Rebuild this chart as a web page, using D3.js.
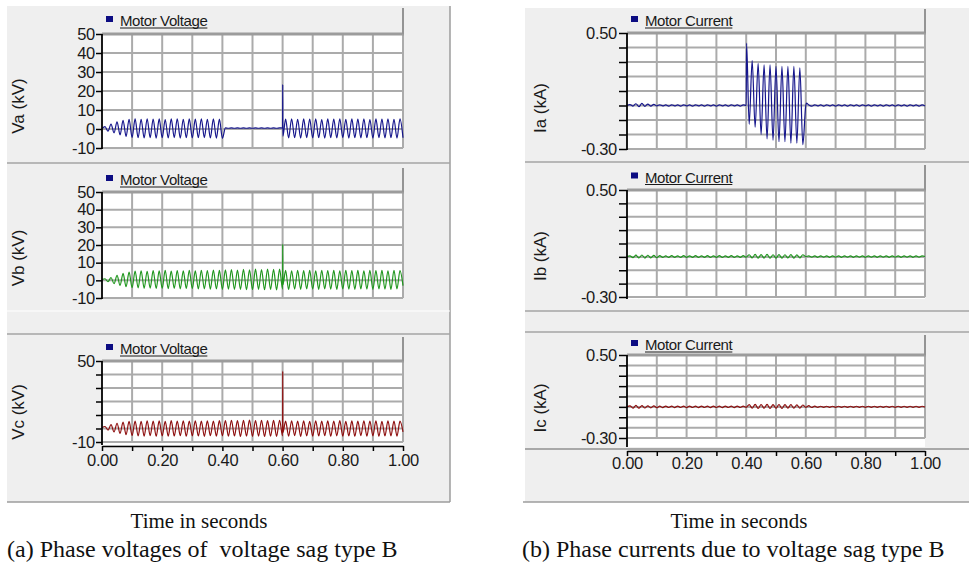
<!DOCTYPE html>
<html>
<head>
<meta charset="utf-8">
<script src="https://cdn.jsdelivr.net/npm/d3@7"></script>
<style>
	body { margin: 0; background: #fff; }
	svg { display: block; font-family: "Liberation Sans", Arial, sans-serif; }
</style>
</head>
<body>
<svg id="chart" width="969" height="574"></svg>
<script>
/*global d3 */
'use strict';

// Time axis (seconds)
var timeTicks = [0, 0.1, 0.2, 0.3, 0.4, 0.5, 0.6, 0.7, 0.8, 0.9, 1.0];
var timeLabels = [0, 0.2, 0.4, 0.6, 0.8, 1.0];
var halfCycle = 0.01; // one reading per half cycle of 50 Hz (peak / trough)

// Voltage axis (kV)
var voltTicks = [-10, 0, 10, 20, 30, 40, 50];
var voltLabelsAll = [-10, 0, 10, 20, 30, 40, 50];
var voltLabelsEnds = [-10, 50];

// Current axis (kA)
var currTicks = [-0.3, -0.2, -0.1, 0, 0.1, 0.2, 0.3, 0.4, 0.5];
var currLabels = [-0.3, 0.5];

// Peak / trough readings, one per half cycle from t = 0 to t = 1.00 s
var vaValues = [
	0.2,
	1.2, -1.1, 2.6, -2.0, 3.7, -3.1, 4.6, -3.9, 5.1, -4.4,
	5.3, -4.6, 5.1, -4.7, 5.4, -4.5, 5.2, -4.8, 5.3, -4.6,
	5.0, -4.7, 5.3, -4.5, 5.4, -4.8, 5.1, -4.6, 5.3, -4.7,
	5.2, -4.6, 5.4, -4.5, 5.1, -4.7, 5.3, -4.8, 5.2, -4.9,
	0.6, 0.4, 0.6, 0.4, 0.6, 0.4, 0.6, 0.4, 0.6, 0.4,
	0.6, 0.4, 0.6, 0.4, 0.6, 0.4, 0.6, 0.4, 0.6, 0.5,
	5.2, -4.7, 5.4, -4.6, 5.1, -4.8, 5.3, -4.5, 5.2, -4.7,
	5.4, -4.6, 5.0, -4.8, 5.3, -4.6, 5.2, -4.7, 5.4, -4.5,
	5.1, -4.8, 5.3, -4.6, 5.2, -4.7, 5.4, -4.6, 5.0, -4.8,
	5.3, -4.5, 5.2, -4.7, 5.4, -4.6, 5.1, -4.8, 5.3, -4.6
];
var vbValues = [
	0.5,
	0.9, -0.8, 1.6, -1.9, 2.8, -2.9, 3.9, -3.6, 4.7, -4.2,
	5.2, -4.3, 5.4, -4.5, 5.1, -4.4, 5.5, -4.6, 5.3, -4.5,
	5.6, -4.7, 5.2, -4.5, 5.5, -4.8, 5.4, -4.6, 5.6, -4.7,
	5.3, -4.9, 5.7, -4.8, 5.5, -5.0, 5.8, -4.9, 5.6, -5.1,
	5.9, -5.0, 6.1, -5.2, 5.8, -5.1, 6.2, -5.3, 6.0, -5.2,
	6.3, -5.1, 6.1, -5.3, 6.4, -5.2, 6.2, -5.4, 6.3, -5.0,
	5.6, -5.2, 5.4, -5.0, 5.7, -5.1, 5.5, -4.9, 5.6, -5.0,
	5.4, -5.1, 5.7, -4.9, 5.5, -5.0, 5.6, -5.1, 5.4, -4.9,
	5.7, -5.0, 5.5, -5.1, 5.6, -4.9, 5.4, -5.0, 5.7, -5.1,
	5.5, -4.9, 5.6, -5.0, 5.4, -5.1, 5.7, -4.9, 5.5, -3.0
];
var vcValues = [
	0.5,
	1.5, -1.2, 2.8, -2.5, 3.9, -3.7, 4.8, -4.6, 5.3, -5.2,
	5.5, -5.4, 5.3, -5.6, 5.7, -5.3, 5.4, -5.7, 5.6, -5.4,
	5.3, -5.6, 5.8, -5.5, 5.4, -5.3, 5.6, -5.7, 5.5, -5.4,
	5.7, -5.5, 5.4, -5.8, 5.6, -5.3, 5.5, -5.6, 5.8, -5.4,
	5.9, -5.7, 6.1, -5.5, 5.8, -5.9, 6.0, -5.6, 6.2, -5.8,
	5.9, -5.6, 6.1, -5.9, 5.8, -5.7, 6.0, -5.8, 6.1, -5.5,
	5.4, -5.6, 5.7, -5.3, 5.5, -5.8, 5.6, -5.4, 5.3, -5.6,
	5.7, -5.5, 5.4, -5.3, 5.6, -5.7, 5.5, -5.4, 5.8, -5.6,
	5.3, -5.5, 5.6, -5.7, 5.4, -5.3, 5.7, -5.6, 5.5, -5.4,
	5.6, -5.7, 5.3, -5.5, 5.7, -5.4, 5.5, -5.6, 5.4, -2.5
];
var iaValues = [
	0,
	0.006, -0.004, 0.012, -0.008, 0.014, -0.006, 0.010, -0.004, 0.008, -0.003,
	0.005, -0.003, 0.004, -0.004, 0.005, -0.003, 0.004, -0.004, 0.005, -0.003,
	0.004, -0.004, 0.005, -0.003, 0.004, -0.004, 0.005, -0.003, 0.004, -0.004,
	0.005, -0.003, 0.004, -0.004, 0.005, -0.003, 0.004, -0.004, 0.005, 0.000,
	-0.13, 0.31, -0.15, 0.29, -0.20, 0.28, -0.23, 0.28, -0.24, 0.27,
	-0.25, 0.27, -0.25, 0.27, -0.26, 0.27, -0.26, 0.26, -0.27, 0.000,
	0.004, -0.004, 0.005, -0.003, 0.004, -0.004, 0.005, -0.003, 0.004, -0.004,
	0.005, -0.003, 0.004, -0.004, 0.005, -0.003, 0.004, -0.004, 0.005, -0.003,
	0.004, -0.004, 0.005, -0.003, 0.004, -0.004, 0.005, -0.003, 0.004, -0.004,
	0.005, -0.003, 0.004, -0.004, 0.005, -0.003, 0.004, -0.004, 0.005, -0.003
];
var ibValues = [
	0.003,
	0.008, -0.006, 0.013, -0.008, 0.014, -0.009, 0.012, -0.007, 0.011, -0.006,
	0.009, -0.004, 0.008, -0.004, 0.009, -0.003, 0.008, -0.004, 0.009, -0.003,
	0.008, -0.003, 0.009, -0.004, 0.008, -0.003, 0.009, -0.004, 0.008, -0.003,
	0.009, -0.004, 0.008, -0.003, 0.009, -0.004, 0.008, -0.003, 0.009, -0.002,
	0.016, -0.008, 0.018, -0.010, 0.017, -0.009, 0.018, -0.010, 0.016, -0.009,
	0.017, -0.010, 0.016, -0.008, 0.017, -0.009, 0.015, -0.008, 0.016, 0.002,
	0.007, -0.002, 0.008, -0.003, 0.007, -0.002, 0.008, -0.003, 0.007, -0.002,
	0.008, -0.003, 0.007, -0.002, 0.008, -0.003, 0.007, -0.002, 0.008, -0.003,
	0.007, -0.002, 0.008, -0.003, 0.007, -0.002, 0.008, -0.003, 0.007, -0.002,
	0.008, -0.003, 0.007, -0.002, 0.008, -0.003, 0.007, -0.002, 0.008, 0.003
];
var icValues = [
	0.000,
	0.010, -0.012, 0.014, -0.013, 0.012, -0.011, 0.010, -0.009, 0.009, -0.008,
	0.007, -0.007, 0.008, -0.006, 0.007, -0.007, 0.008, -0.006, 0.007, -0.007,
	0.008, -0.006, 0.007, -0.007, 0.008, -0.006, 0.007, -0.007, 0.008, -0.006,
	0.007, -0.007, 0.008, -0.006, 0.007, -0.007, 0.008, -0.006, 0.007, -0.004,
	0.022, -0.012, 0.024, -0.014, 0.023, -0.013, 0.024, -0.015, 0.022, -0.013,
	0.023, -0.014, 0.022, -0.012, 0.021, -0.013, 0.020, -0.012, 0.018, -0.004,
	0.012, -0.006, 0.008, -0.005, 0.006, -0.005, 0.006, -0.004, 0.006, -0.005,
	0.006, -0.004, 0.006, -0.005, 0.006, -0.004, 0.006, -0.005, 0.006, -0.004,
	0.006, -0.005, 0.006, -0.004, 0.006, -0.005, 0.006, -0.004, 0.006, -0.005,
	0.006, -0.004, 0.006, -0.005, 0.006, -0.004, 0.006, -0.005, 0.006, -0.002
];

// Switching transients between the half-cycle readings: [time (s), value]
var vaEvents = [[0.6004, 23.5], [0.6009, -3.8]];
var vbEvents = [[0.6004, 20.5], [0.6009, -2.5]];
var vcEvents = [[0.6004, 42.5], [0.6009, -3.0]];
var iaEvents = [[0.4012, 0.43], [0.6022, 0.016]];
var ibEvents = [];
var icEvents = [];

var svg = d3.select('#chart');

var plots = [
	{ values: vaValues, events: vaEvents, color: '#16168c', yLabel: 'Va (kV)', legend: 'Motor Voltage',
		ticks: voltTicks, labels: voltLabelsAll, fmt: function(d) { return String(d); },
		x0: 102, x1: 403, head: 8, y0: 34, y1: 148, pad: 1, tick: 6, tickPad: 1, labelX: 18, labelY: 106 },
	{ values: vbValues, events: vbEvents, color: '#20961e', yLabel: 'Vb (kV)', legend: 'Motor Voltage',
		ticks: voltTicks, labels: voltLabelsAll, fmt: function(d) { return String(d); },
		x0: 102, x1: 403, head: 168, y0: 192, y1: 298, pad: 1, tick: 6, tickPad: 1, labelX: 18, labelY: 258 },
	{ values: vcValues, events: vcEvents, color: '#8e1010', yLabel: 'Vc (kV)', legend: 'Motor Voltage',
		ticks: voltTicks, labels: voltLabelsEnds, fmt: function(d) { return String(d); },
		x0: 102, x1: 403, head: 337, y0: 361, y1: 442, pad: 3, tick: 6, tickPad: 1, labelX: 18, labelY: 412,
		xAxisY: 446, xTickPad: 3 },
	{ values: iaValues, events: iaEvents, color: '#16168c', yLabel: 'Ia (kA)', legend: 'Motor Current',
		ticks: currTicks, labels: currLabels, fmt: function(d) { return d.toFixed(2); },
		x0: 627, x1: 925, head: 9, y0: 33, y1: 149, pad: 1, tick: 8, tickPad: 2, labelX: 540, labelY: 108 },
	{ values: ibValues, events: ibEvents, color: '#20961e', yLabel: 'Ib (kA)', legend: 'Motor Current',
		ticks: currTicks, labels: currLabels, fmt: function(d) { return d.toFixed(2); },
		x0: 627, x1: 925, head: 165, y0: 190, y1: 297, pad: 2, tick: 8, tickPad: 2, labelX: 540, labelY: 256 },
	{ values: icValues, events: icEvents, color: '#8e1010', yLabel: 'Ic (kA)', legend: 'Motor Current',
		ticks: currTicks, labels: currLabels, fmt: function(d) { return d.toFixed(2); },
		x0: 627, x1: 925, head: 335, y0: 355, y1: 438, pad: 9, tick: 8, tickPad: 2, labelX: 540, labelY: 408,
		xAxisY: 451, xTickPad: 1 }
];

function isLabeled(d, list) {
	return list.some(function(v) { return Math.abs(v - d) < 1e-9; });
}

function hline(y, xa, xb, color, width) {
	svg.append('line')
		.attr('x1', xa).attr('x2', xb)
		.attr('y1', y).attr('y2', y)
		.attr('stroke', color).attr('stroke-width', width);
}

function vline(x, ya, yb, color, width) {
	svg.append('line')
		.attr('x1', x).attr('x2', x)
		.attr('y1', ya).attr('y2', yb)
		.attr('stroke', color).attr('stroke-width', width);
}

// Panel backgrounds and separators
svg.append('rect').attr('x', 7).attr('y', 6).attr('width', 443).attr('height', 496).attr('fill', '#efefef');
svg.append('rect').attr('x', 525).attr('y', 8).attr('width', 444).attr('height', 494).attr('fill', '#efefef');
vline(450, 6, 502, '#9c9c9c', 1.5);
hline(502, 7, 450, '#9c9c9c', 1.5);
hline(502, 523, 969, '#9c9c9c', 1.5);
hline(163, 7, 450, '#a4a4a4', 1.5);
hline(311, 7, 450, '#ffffff', 1);
hline(334, 7, 450, '#a4a4a4', 1.5);
hline(162, 525, 969, '#a4a4a4', 1.5);
hline(311, 525, 969, '#a4a4a4', 1.5);
hline(332, 525, 969, '#a4a4a4', 1.5);
hline(449, 525, 969, '#a8a8a8', 2);

function drawPlot(p) {
	var x = d3.scaleLinear().domain([0, 1]).range([p.x0, p.x1]);
	var y = d3.scaleLinear().domain([p.ticks[0], p.ticks[p.ticks.length - 1]]).range([p.y1, p.y0]);

	// plot area
	svg.append('rect')
		.attr('x', p.x0).attr('y', p.y0)
		.attr('width', p.x1 - p.x0).attr('height', p.y1 - p.y0 + p.pad)
		.attr('fill', '#ffffff');

	// grid
	var grid = svg.append('g').attr('class', 'grid');
	grid.selectAll('line.gx')
		.data(timeTicks.slice(1))
		.enter().append('line')
		.attr('class', 'gx')
		.attr('x1', function(d) { return x(d); })
		.attr('x2', function(d) { return x(d); })
		.attr('y1', p.y0).attr('y2', p.y1)
		.attr('stroke', '#ababab').attr('stroke-width', 2);
	grid.selectAll('line.gy')
		.data(p.ticks.slice(0, -1))
		.enter().append('line')
		.attr('class', 'gy')
		.attr('x1', p.x0).attr('x2', p.x1)
		.attr('y1', function(d) { return y(d); })
		.attr('y2', function(d) { return y(d); })
		.attr('stroke', '#ababab').attr('stroke-width', 2);

	// legend header
	hline(p.y0, p.x0, p.x1 + 1, '#9c9c9c', 3);
	vline(p.x1, p.head, p.y0, '#949494', 2);
	svg.append('rect')
		.attr('x', p.x0 + 4).attr('y', (p.head + p.y0) / 2 - 5)
		.attr('width', 7).attr('height', 6)
		.attr('fill', '#0c0c82');
	var legendText = svg.append('text')
		.attr('x', p.x0 + 18).attr('y', (p.head + p.y0) / 2 + 5)
		.attr('font-size', 15).attr('letter-spacing', -0.4).attr('fill', '#1a1a1a')
		.text(p.legend);
	var legendWidth = legendText.node().getComputedTextLength();
	hline((p.head + p.y0) / 2 + 7, p.x0 + 18, p.x0 + 18 + legendWidth, '#1a1a1a', 1);

	// series
	var points = p.values.map(function(v, i) { return [i * halfCycle, v]; })
		.concat(p.events)
		.sort(function(a, b) { return a[0] - b[0]; });
	var line = d3.line()
		.x(function(d) { return x(d[0]); })
		.y(function(d) { return y(d[1]); })
		.curve(d3.curveMonotoneX);
	svg.append('path')
		.datum(points)
		.attr('d', line)
		.attr('fill', 'none')
		.attr('stroke', p.color)
		.attr('stroke-width', 1.2);

	// y axis
	var yAxis = d3.axisLeft(y)
		.tickValues(p.ticks)
		.tickSize(p.tick)
		.tickSizeOuter(0)
		.tickPadding(p.tickPad)
		.tickFormat(function(d) { return isLabeled(d, p.labels) ? p.fmt(d) : ''; });
	var ya = svg.append('g')
		.attr('transform', 'translate(' + p.x0 + ',0)')
		.call(yAxis);
	ya.select('.domain').attr('stroke', '#000').attr('stroke-width', 1.8)
		.attr('d', 'M0,' + p.y0 + 'V' + (p.y1 + p.pad));
	ya.selectAll('.tick line').attr('stroke', '#000').attr('stroke-width', 1.5);
	ya.selectAll('.tick text')
		.attr('font-size', 16.5).attr('font-family', '"Liberation Sans", Arial, sans-serif')
		.attr('letter-spacing', -0.3)
		.attr('fill', '#1a1a1a');

	svg.append('text')
		.attr('transform', 'translate(' + p.labelX + ',' + p.labelY + ') rotate(-90)')
		.attr('text-anchor', 'middle')
		.attr('dy', '0.35em')
		.attr('font-size', 17).attr('fill', '#1a1a1a')
		.text(p.yLabel);

	// x axis, only under the lowest plot of each column
	if (p.xAxisY) {
		var xAxis = d3.axisBottom(x)
			.tickValues(timeTicks)
			.tickSize(5)
			.tickSizeOuter(0)
			.tickPadding(p.xTickPad)
			.tickFormat(function(d) { return isLabeled(d, timeLabels) ? d.toFixed(2) : ''; });
		var xa = svg.append('g')
			.attr('transform', 'translate(0,' + p.xAxisY + ')')
			.call(xAxis);
		xa.select('.domain').attr('stroke', '#000').attr('stroke-width', 1.5);
		xa.selectAll('.tick line').attr('stroke', '#000').attr('stroke-width', 1.5);
		xa.selectAll('.tick text')
			.attr('font-size', 16.5).attr('font-family', '"Liberation Sans", Arial, sans-serif')
			.attr('letter-spacing', -0.3)
			.attr('fill', '#1a1a1a');
	}
}

plots.forEach(drawPlot);

// Captions below the panels
var captions = [
	{ text: 'Time in seconds', x: 199, y: 528, size: 21, anchor: 'middle' },
	{ text: 'Time in seconds', x: 739, y: 528, size: 21, anchor: 'middle' },
	{ text: '(a) Phase voltages of  voltage sag type B', x: 7, y: 557, size: 24, anchor: 'start' },
	{ text: '(b) Phase currents due to voltage sag type B', x: 522, y: 557, size: 24, anchor: 'start' }
];
svg.selectAll('text.caption')
	.data(captions)
	.enter().append('text')
	.attr('class', 'caption')
	.attr('x', function(d) { return d.x; })
	.attr('y', function(d) { return d.y; })
	.attr('text-anchor', function(d) { return d.anchor; })
	.attr('font-family', '"Liberation Serif", "Times New Roman", serif')
	.attr('font-size', function(d) { return d.size; })
	.attr('fill', '#111')
	.style('white-space', 'pre')
	.text(function(d) { return d.text; });
</script>
</body>
</html>
